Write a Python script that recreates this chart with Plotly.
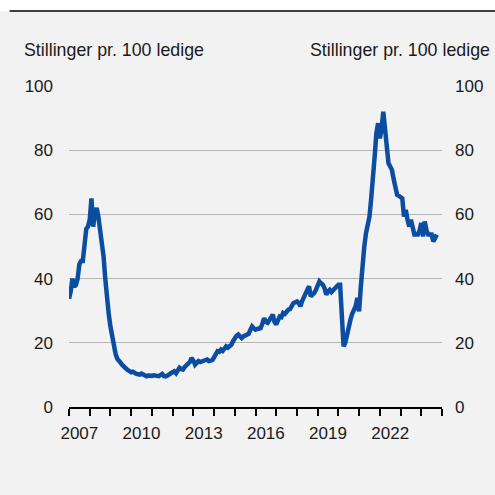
import plotly.graph_objects as go

start_year = 2007
values = [
    # 2007
    33.7, 36.0, 40.0, 37.5, 38.0, 40.0, 44.5, 45.5, 45.5, 50.0, 55.5, 56.2,
    # 2008
    58.3, 65.0, 56.2, 60.4, 62.0, 59.3, 55.5, 52.6, 47.0, 40.0, 33.4, 29.0,
    # 2009
    25.0, 21.5, 18.0, 16.5, 15.0, 14.5, 13.7, 13.0, 12.5, 11.7, 11.5, 11.2,
    # 2010
    10.8, 11.0, 10.5, 10.3, 10.2, 10.1, 10.4, 10.0, 9.8, 9.6, 9.8, 9.6,
    # 2011
    9.7, 9.9, 9.6, 9.7, 9.6, 9.8, 10.3, 9.6, 9.5, 9.8, 10.3, 10.5,
    # 2012
    10.8, 11.1, 10.5, 11.5, 12.2, 11.8, 11.7, 12.5, 13.2, 13.5, 14.0, 15.3,
    # 2013
    14.5, 13.2, 13.8, 14.3, 14.0, 14.2, 14.3, 14.5, 14.8, 14.3, 14.4, 14.6,
    # 2014
    15.5, 16.5, 17.4, 17.2, 17.9, 17.5, 18.2, 18.9, 18.5, 19.0, 19.4, 20.5,
    # 2015
    21.5, 22.2, 22.6, 21.8, 21.5, 22.0, 22.3, 22.6, 22.8, 24.0, 25.1, 24.5,
    # 2016
    24.1, 24.3, 24.5, 24.6, 26.0, 27.7, 26.5, 26.2, 27.0, 28.0, 28.8, 26.5,
    # 2017
    25.7, 27.0, 28.2, 28.0, 29.3, 29.0, 29.8, 30.3, 30.5, 31.5, 32.4, 32.6,
    # 2018
    32.9, 32.4, 31.4, 33.0, 34.5, 35.5, 36.5, 37.6, 34.5, 35.0, 35.5, 36.5,
    # 2019
    37.8, 39.1, 38.5, 38.1, 37.0, 35.0, 36.0, 36.5, 35.8, 36.5, 37.2, 37.5,
    # 2020
    38.1, 38.1, 28.0, 18.9, 20.0, 23.0, 25.0, 27.2, 29.0, 30.5, 31.4, 34.0,
    # 2021
    29.8, 37.6, 44.9, 50.0, 54.2, 57.0, 59.3, 65.0, 70.0, 78.0, 85.3, 88.4,
    # 2022
    83.7, 86.8, 92.0, 86.3, 80.0, 76.0, 74.9, 73.9, 71.0, 67.7, 66.1, 65.8,
    # 2023
    65.5, 65.0, 59.3, 61.4, 58.5, 56.2, 58.3, 55.0, 53.7, 53.7, 53.7, 55.0,
    # 2024
    57.3, 53.1, 57.8, 55.0, 53.7, 53.7, 53.7, 51.6, 52.5, 53.7,
]
x_vals = [start_year + i / 12 for i in range(len(values))]

year_ticks = list(range(2007, 2026))
label_years = [2007, 2010, 2013, 2016, 2019, 2022]
y_ticks = [0, 20, 40, 60, 80, 100]
axis_title = "Stillinger pr. 100 ledige"

FONT = "Liberation Sans, Arial, sans-serif"
BG = "#f2f2f2"
W, H = 495, 495
ML, MR, MT, MB = 69, 49, 86, 88
pw, ph = W - ML - MR, H - MT - MB

def px_x(p):
    return (p - ML) / pw

def px_y(p):
    return (H - MB - p) / ph

fig = go.Figure()
fig.add_trace(go.Scatter(x=x_vals, y=values, mode="lines",
                         line=dict(color="#0b4da1", width=4.5),
                         showlegend=False, hoverinfo="skip"))
# invisible trace for right axis
fig.add_trace(go.Scatter(x=[x_vals[0]], y=[values[0]], yaxis="y2", mode="markers",
                         marker=dict(opacity=0), showlegend=False, hoverinfo="skip"))

fig.update_layout(
    width=W, height=H,
    margin=dict(l=ML, r=MR, t=MT, b=MB),
    paper_bgcolor=BG, plot_bgcolor=BG,
    font=dict(family=FONT, size=17, color="#1a1a1a"),
    xaxis=dict(range=[2007, 2025], tickvals=[y + 0.5 for y in label_years],
               ticktext=[str(y) for y in label_years], ticks="",
               showgrid=False, zeroline=False, showline=True,
               linecolor="#000000", linewidth=1.5,
               ticklabelstandoff=10,
               minor=dict(tickvals=year_ticks, ticks="outside", ticklen=7,
                          tickwidth=1.5, tickcolor="#000000", showgrid=False)),
    yaxis=dict(range=[0, 100], tickvals=y_ticks, ticks="", showgrid=True,
               gridcolor="#b5b5b5", gridwidth=1, zeroline=False,
               ticklabelstandoff=15),
    yaxis2=dict(range=[0, 100], tickvals=y_ticks, ticks="", overlaying="y",
                side="right", showgrid=False, zeroline=False,
                ticklabelstandoff=12),
)

fig.add_annotation(text=axis_title, xref="paper", yref="paper",
                   x=px_x(22), y=px_y(50),
                   xanchor="left", yanchor="middle", showarrow=False,
                   font=dict(size=17.8))
fig.add_annotation(text=axis_title, xref="paper", yref="paper",
                   x=px_x(497), y=px_y(50),
                   xanchor="right", yanchor="middle", showarrow=False,
                   font=dict(size=17.8))
# white strip above the top rule
fig.add_shape(type="rect", xref="paper", yref="paper",
              x0=px_x(-5), x1=px_x(W + 5), y0=px_y(11), y1=px_y(-5),
              fillcolor="#ffffff", line=dict(width=0), layer="below")
fig.add_shape(type="line", xref="paper", yref="paper",
              x0=px_x(9), x1=px_x(W + 5), y0=px_y(11), y1=px_y(11),
              line=dict(color="#000000", width=1.5))

fig.write_html("out.html", config={"displayModeBar": False},
               post_script="document.body.style.margin='0';")
